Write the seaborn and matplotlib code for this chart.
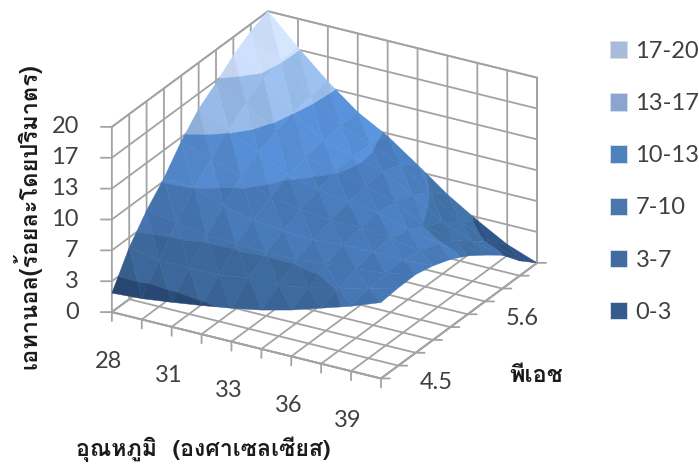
import numpy as np
import matplotlib
matplotlib.use("Agg")
import matplotlib.pyplot as plt
from matplotlib.patches import Patch
from mpl_toolkits.mplot3d import proj3d
from mpl_toolkits.mplot3d.art3d import Poly3DCollection
import seaborn as sns

# Ethanol yield (% v/v), one row per temperature step, columns follow the pH steps
ethanol_t0 = [2.05, 5.6, 8.2, 10.3, 12.9, 15.0, 16.4, 18.0, 19.2, 20.0]
ethanol_t1 = [2.25, 5.0, 7.7, 10.05, 11.8, 13.6, 15.0, 16.4, 16.8, 16.9]
ethanol_t2 = [2.65, 5.0, 7.1, 8.9, 10.7, 11.9, 12.8, 13.4, 13.8, 14.0]
ethanol_t3 = [3.1, 5.0, 7.0, 8.2, 9.3, 10.2, 10.8, 11.2, 11.4, 11.5]
ethanol_t4 = [3.6, 5.5, 6.85, 7.8, 8.7, 9.5, 10.1, 10.3, 10.2, 9.7]
ethanol_t5 = [4.2, 5.5, 6.9, 7.6, 8.3, 8.9, 9.3, 9.4, 8.8, 7.4]
ethanol_t6 = [5.0, 6.0, 7.2, 7.9, 8.4, 8.6, 8.3, 7.7, 6.6, 5.0]
ethanol_t7 = [6.0, 6.8, 7.5, 7.9, 8.0, 7.5, 6.5, 5.6, 4.2, 3.0]
ethanol_t8 = [7.0, 7.5, 7.8, 7.8, 7.4, 6.9, 5.8, 4.3, 2.9, 1.2]
ethanol_t9 = [8.2, 8.4, 8.45, 8.0, 7.3, 6.3, 5.0, 3.6, 1.6, 0.0]

temperature_labels = ["28", "", "31", "", "33", "", "36", "", "39", ""]
ph_labels = ["4.5", "", "", "", "", "5.6", "", "", "", ""]
ethanol_ticks = [0, 10 / 3, 20 / 3, 10, 40 / 3, 50 / 3, 20]
ethanol_labels = ["0", "3", "7", "10", "13", "17", "20"]
legend_labels = ["17-20", "13-17", "10-13", "7-10", "3-7", "0-3"]
surface_colors = ["#2d5081", "#3f6da2", "#487ab9", "#558cd2", "#96b9e6", "#cbdcf9"]
legend_colors = ["#a9bbdb", "#8aa5d0", "#4f81bd", "#4a76ae", "#406ca0", "#355a8b"]

GRID = "#a3a3a3"
TEXT = "#404040"

sns.set_theme(style="white")
plt.rcParams["font.family"] = ["Lato", "Loma", "DejaVu Sans"]

Z = np.array([ethanol_t0, ethanol_t1, ethanol_t2, ethanol_t3, ethanol_t4,
              ethanol_t5, ethanol_t6, ethanol_t7, ethanol_t8, ethanol_t9])
n_t, n_ph = Z.shape


def clip_band(tri, lo, hi):
    """Cut a triangle to the part whose height lies between lo and hi."""
    poly = [np.asarray(p, float) for p in tri]
    for level, keep_above in ((lo, True), (hi, False)):
        out = []
        for k, a in enumerate(poly):
            b = poly[(k + 1) % len(poly)]
            ina = a[2] >= level if keep_above else a[2] <= level
            inb = b[2] >= level if keep_above else b[2] <= level
            if ina:
                out.append(a)
            if ina != inb:
                t = (level - a[2]) / (b[2] - a[2])
                out.append(a + t * (b - a))
        poly = out
        if len(poly) < 3:
            return []
    return poly


def facet_shade(tri, row):
    """Brightness of a facet: light from the far right plus the alternating mesh rows."""
    p = np.array(tri) * np.array([1.0, 1.0, 0.3])
    n = np.cross(p[1] - p[0], p[2] - p[0])
    n = n / np.linalg.norm(n) * np.sign(n[2])
    light = np.array([0.5, 0.4, 0.77])
    light = light / np.linalg.norm(light)
    return (0.85 + 0.2 * n.dot(light)) * (1.02 if row % 2 else 0.98)


polys, faces = [], []
for i in range(n_t - 1):
    for j in range(n_ph - 1):
        a = (i, j, Z[i, j])
        b = (i + 1, j, Z[i + 1, j])
        c = (i, j + 1, Z[i, j + 1])
        d = (i + 1, j + 1, Z[i + 1, j + 1])
        for tri, row in (((a, b, c), j), ((b, d, c), j + 1)):
            shade = facet_shade(tri, row)
            for band in range(6):
                piece = clip_band(tri, ethanol_ticks[band], ethanol_ticks[band + 1])
                if piece:
                    polys.append(piece)
                    rgb = np.array(matplotlib.colors.to_rgb(surface_colors[band]))
                    faces.append(tuple(np.clip(rgb * shade, 0, 1)))

fig = plt.figure(figsize=(6.99, 4.67), dpi=100)
ax = fig.add_axes([-0.0448, 0.0692, 1.0, 1.0], projection="3d")
ax.set_proj_type("ortho")
ax.view_init(elev=25.3, azim=-60.0)
ax.set_box_aspect((310.3, 312.0, 204.6), zoom=1.01)
ax.set_xlim(0, n_t - 1, view_margin=0)
ax.set_ylim(0, n_ph - 1, view_margin=0)
ax.set_zlim(0, 20, view_margin=0)

mesh = Poly3DCollection(polys, facecolors=faces, edgecolors=faces, linewidths=0.3)
ax.add_collection3d(mesh)

ax.set_xticks(range(n_t))
ax.set_yticks(range(n_ph))
ax.set_zticks(ethanol_ticks)
ax.set_xticklabels([])
ax.set_yticklabels([])
ax.set_zticklabels([])
for axis in (ax.xaxis, ax.yaxis, ax.zaxis):
    axis.set_pane_color((1, 1, 1, 1))
    axis.pane.set_edgecolor(GRID)
    axis.pane.set_linewidth(1.3)
    axis.line.set_color(GRID)
    axis.line.set_linewidth(1.3)
    axis._axinfo["grid"].update(color=GRID, linewidth=1.3)
    axis._axinfo["tick"].update(inward_factor=0, outward_factor=0)
ax.grid(True)

M = ax.get_proj()


def place_tick(x, y, z, mark, label, offset, ha="center", va="center"):
    """Draw a screen-aligned tick mark and its label next to a point of the box."""
    px, py, _ = proj3d.proj_transform(x, y, z, M)
    ax.annotate("", xy=(px, py), xycoords="data", xytext=mark, textcoords="offset pixels",
                arrowprops=dict(arrowstyle="-", color=GRID, lw=1.3, shrinkA=0, shrinkB=0),
                annotation_clip=False)
    if label:
        ax.annotate(label, xy=(px, py), xycoords="data", xytext=offset,
                    textcoords="offset pixels", ha=ha, va=va, color=TEXT,
                    fontsize=17, annotation_clip=False)


for i, lab in enumerate(temperature_labels):
    place_tick(i, 0, 0, (0, -9), lab, (-3, -49))
for j, lab in enumerate(ph_labels):
    place_tick(n_t - 1, j, 0, (9, 0), lab, (55, -4))
for v, lab in zip(ethanol_ticks, ethanol_labels):
    place_tick(0, 0, v, (-11, 0), lab, (-33, 0), ha="right")

thai = ["Loma", "Lato"]
fig.text(27 / 699, 1 - 216 / 467, "เอทานอล(ร้อยละโดยปริมาตร)", rotation=90, ha="center",
         va="center", family=thai, weight="bold", fontsize=17, color="#1a1a1a")
fig.text(203 / 699, 1 - 449 / 467, "อุณหภูมิ  (องศาเซลเซียส)", ha="center", va="center",
         family=thai, weight="bold", fontsize=16.6, color="#1a1a1a")
fig.text(536 / 699, 1 - 375 / 467, "พีเอช", ha="center", va="center",
         family=thai, weight="bold", fontsize=17, color="#1a1a1a")

handles = [Patch(facecolor=c, edgecolor="#d5deed", linewidth=0.7) for c in legend_colors]
fig.legend(handles, legend_labels, loc="upper left", bbox_to_anchor=(610 / 699, 1 - 41 / 467),
           bbox_transform=fig.transFigure, frameon=False, fontsize=17, labelcolor=TEXT,
           handlelength=0.72, handleheight=0.76, handletextpad=0.36, labelspacing=1.32,
           borderaxespad=0, borderpad=0)
fig.savefig("out.png")
